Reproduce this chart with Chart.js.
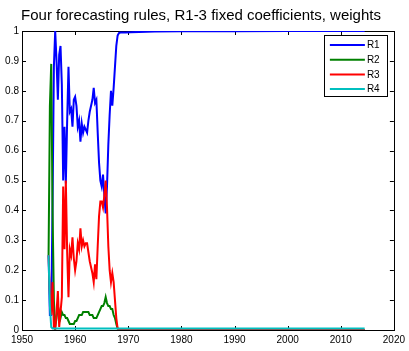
<!DOCTYPE html>
<html>
<head>
<meta charset="utf-8">
<script src="https://cdn.jsdelivr.net/npm/chart.js@4.4.0/dist/chart.umd.min.js"></script>
<style>
  html, body { margin: 0; padding: 0; background: #fff; }
  #wrap { width: 409px; height: 351px; }
</style>
</head>
<body>
<div id="wrap"><canvas id="weightsChart"></canvas></div>
<script>

// data (quarterly until 1969, sparse after that)
const years = [
  1955.00, 1955.25, 1955.50, 1955.75, 1956.00, 1956.25, 1956.50, 1956.75,
  1957.00, 1957.25, 1957.50, 1957.75, 1958.00, 1958.25, 1958.50, 1958.75,
  1959.00, 1959.25, 1959.50, 1959.75, 1960.00, 1960.25, 1960.50, 1960.75,
  1961.00, 1961.25, 1961.50, 1961.75, 1962.00, 1962.25, 1962.50, 1962.75,
  1963.00, 1963.25, 1963.50, 1963.75, 1964.00, 1964.25, 1964.50, 1964.75,
  1965.00, 1965.25, 1965.50, 1965.75, 1966.00, 1966.25, 1966.50, 1966.75,
  1967.00, 1967.25, 1967.50, 1967.75, 1968.00, 1968.25, 1968.50, 1968.75,
  1969.5, 1970.5, 1972, 1975, 1980, 1990, 2000, 2010, 2014.5
];
const r1 = [
  0.25, 0.05, 0.05, 0.42, 0.88, 1.00, 0.90, 0.77,
  0.92, 0.95, 0.82, 0.50, 0.68, 0.49, 0.70, 0.88,
  0.73, 0.74, 0.68, 0.77, 0.78, 0.75, 0.68, 0.70,
  0.63, 0.69, 0.66, 0.68, 0.67, 0.66, 0.70, 0.73,
  0.75, 0.77, 0.81, 0.76, 0.77, 0.66, 0.56, 0.50,
  0.48, 0.52, 0.45, 0.39, 0.48, 0.62, 0.72, 0.80,
  0.75, 0.81, 0.88, 0.95, 0.985, 0.993, 0.995, 0.995,
  0.995, 0.996, 0.997, 0.998, 0.999, 0.999, 1.0, 1.0, 1.0
];
const r2 = [
  0.25, 0.75, 0.89, 0.40, 0.10, 0.01, 0.04, 0.08,
  0.06, 0.04, 0.06, 0.05, 0.05, 0.04, 0.04, 0.03,
  0.02, 0.02, 0.02, 0.02, 0.03, 0.03, 0.04, 0.05,
  0.05, 0.05, 0.06, 0.06, 0.06, 0.06, 0.06, 0.05,
  0.05, 0.05, 0.04, 0.04, 0.04, 0.05, 0.06, 0.07,
  0.08, 0.08, 0.09, 0.11, 0.09, 0.08, 0.08, 0.07,
  0.07, 0.05, 0.04, 0.02, 0.005, 0.002, 0.002, 0.001,
  0, 0, 0, 0, 0, 0, 0, 0, 0
];
const r3 = [
  0.25, 0.12, 0.05, 0.16, 0.01, 0.00, 0.06, 0.13,
  0.01, 0.06, 0.11, 0.48, 0.27, 0.50, 0.26, 0.11,
  0.27, 0.25, 0.31, 0.24, 0.20, 0.23, 0.29, 0.27,
  0.34, 0.28, 0.30, 0.28, 0.29, 0.29, 0.26, 0.23,
  0.21, 0.19, 0.16, 0.22, 0.17, 0.28, 0.38, 0.43,
  0.43, 0.41, 0.45, 0.50, 0.41, 0.28, 0.20, 0.16,
  0.19, 0.16, 0.10, 0.04, 0.005, 0.002, 0.002, 0.001,
  0, 0, 0, 0, 0, 0, 0, 0, 0
];
const r4 = [
  0.25, 0.08, 0.01, 0.005, 0.005, 0.005, 0.005, 0.005,
  0.005, 0.005, 0.005, 0.005, 0.005, 0.005, 0.005, 0.005,
  0.005, 0.005, 0.005, 0.005, 0.005, 0.005, 0.005, 0.005,
  0.005, 0.005, 0.005, 0.005, 0.005, 0.005, 0.005, 0.005,
  0.005, 0.005, 0.005, 0.005, 0.005, 0.005, 0.005, 0.005,
  0.005, 0.005, 0.005, 0.005, 0.005, 0.005, 0.005, 0.005,
  0.005, 0.005, 0.005, 0.005, 0.005, 0.005, 0.005, 0.005,
  0.005, 0.005, 0.005, 0.005, 0.005, 0.005, 0.005, 0.005, 0.005
];

const seriesNames = ['R1', 'R2', 'R3', 'R4'];
const seriesColors = ['rgb(0, 0, 255)', 'rgb(0, 128, 0)', 'rgb(255, 0, 0)', 'rgb(0, 191, 191)'];
const xTicks = [1950, 1960, 1970, 1980, 1990, 2000, 2010, 2020];
const yTicks = [0, 0.1, 0.2, 0.3, 0.4, 0.5, 0.6, 0.7, 0.8, 0.9, 1];
const titleText = 'Four forecasting rules, R1-3 fixed coefficients, weights';

const FONT = "'Liberation Sans', Arial, sans-serif";

function toPoints(ys) {
  return years.map((x, i) => ({ x: x, y: ys[i] }));
}

// axes box + inward tick marks, matlab style
const frameTicks = {
  id: 'frameTicks',
  beforeDatasetsDraw(chart) {
    const ctx = chart.ctx;
    const a = chart.chartArea;
    const xs = chart.scales.x;
    const ys = chart.scales.y;
    ctx.save();
    ctx.strokeStyle = '#000';
    ctx.lineWidth = 1;
    ctx.strokeRect(Math.round(a.left) + 0.5, Math.round(a.top) + 0.5,
      Math.round(a.right - a.left), Math.round(a.bottom - a.top));
    ctx.beginPath();
    xTicks.forEach((t) => {
      const px = Math.round(xs.getPixelForValue(t)) + 0.5;
      ctx.moveTo(px, a.bottom); ctx.lineTo(px, a.bottom - 4);
      ctx.moveTo(px, a.top); ctx.lineTo(px, a.top + 4);
    });
    yTicks.forEach((t) => {
      const py = Math.round(ys.getPixelForValue(t)) + 0.5;
      ctx.moveTo(a.left, py); ctx.lineTo(a.left + 4, py);
      ctx.moveTo(a.right, py); ctx.lineTo(a.right - 4, py);
    });
    ctx.stroke();
    ctx.restore();
  }
};

// legend box in the upper right corner
const boxLegend = {
  id: 'boxLegend',
  afterDatasetsDraw(chart) {
    const ctx = chart.ctx;
    const a = chart.chartArea;
    const right = a.right - 7;
    const left = right - 63;
    const top = a.top + 4;
    const rowH = 14.7;
    ctx.save();
    ctx.fillStyle = '#fff';
    ctx.fillRect(left, top, right - left, 61);
    ctx.strokeStyle = '#000';
    ctx.lineWidth = 1;
    ctx.strokeRect(Math.round(left) + 0.5, Math.round(top) + 0.5, right - left, 61);
    ctx.font = '10px ' + FONT;
    ctx.textBaseline = 'middle';
    seriesNames.forEach((name, i) => {
      const y = top + 10 + i * rowH;
      ctx.strokeStyle = seriesColors[i];
      ctx.lineWidth = 2;
      ctx.beginPath();
      ctx.moveTo(left + 6, y);
      ctx.lineTo(left + 41, y);
      ctx.stroke();
      ctx.fillStyle = '#000';
      ctx.fillText(name, left + 43, y + 0.5);
    });
    ctx.restore();
  }
};

const allSeries = [r1, r2, r3, r4];
const data = {
  datasets: allSeries.map((s, i) => ({
    label: seriesNames[i],
    data: toPoints(s),
    borderColor: seriesColors[i],
    backgroundColor: seriesColors[i],
    borderWidth: 2,
    pointRadius: 0,
    tension: 0,
    order: 4 - i
  }))
};

const config = {
  type: 'line',
  data: data,
  options: {
    responsive: true,
    maintainAspectRatio: false,
    animation: false,
    layout: {
      autoPadding: false,
      padding: { left: 0, right: 7, top: 0, bottom: 0 }
    },
    scales: {
      x: {
        type: 'linear',
        min: 1950,
        max: 2020,
        afterFit: (scale) => { scale.height = 21; },
        grid: { display: false, drawTicks: false },
        border: { display: false },
        ticks: {
          stepSize: 10,
          padding: 4,
          color: '#000',
          font: { family: FONT, size: 10 },
          maxRotation: 0,
          callback: (v) => String(v)
        }
      },
      y: {
        min: 0,
        max: 1,
        afterFit: (scale) => { scale.width = 22; },
        grid: { display: false, drawTicks: false },
        border: { display: false },
        ticks: {
          stepSize: 0.1,
          padding: 3,
          color: '#000',
          font: { family: FONT, size: 10 },
          callback: (v) => String(Math.round(v * 10) / 10)
        }
      }
    },
    plugins: {
      legend: { display: false },
      tooltip: { enabled: false },
      title: {
        display: true,
        text: titleText,
        color: '#000',
        font: { family: FONT, size: 15, weight: 'normal' },
        padding: { top: 7, bottom: 6 }
      }
    }
  },
  plugins: [frameTicks, boxLegend]
};

new Chart(document.getElementById('weightsChart'), config);
</script>
</body>
</html>
